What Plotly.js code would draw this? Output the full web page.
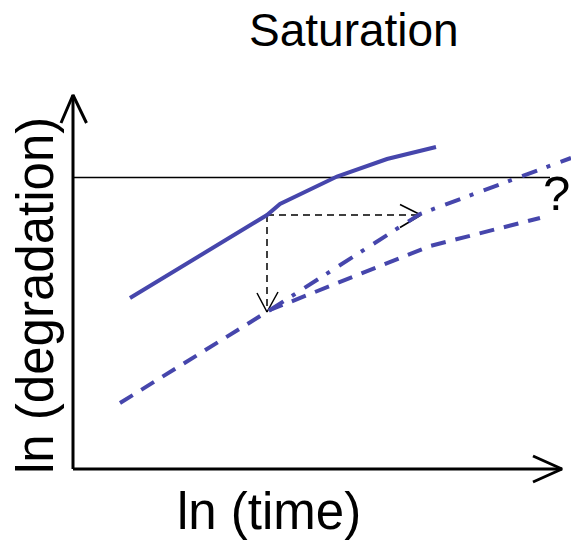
<!DOCTYPE html>
<html>
<head>
<meta charset="utf-8">
<script src="https://cdn.plot.ly/plotly-3.0.1.min.js"></script>
<style>html,body{margin:0;padding:0;background:#fff;}#chart{width:571px;height:543px;}</style>
</head>
<body>
<div id="chart"></div>
<script>
// Abstract units: ln(time) along x, ln(degradation) along y; origin at the axes corner.
const solidX = [1.14, 3.88, 4.14, 5.28, 6.28, 7.26];
const solidY = [3.42, 5.08, 5.30, 5.85, 6.20, 6.44];

const dashedX = [0.94, 3.94, 7.14, 9.34];
const dashedY = [1.32, 3.18, 4.46, 5.02];

const dashDotX = [3.94, 6.94, 9.96];
const dashDotY = [3.18, 5.10, 6.22];

const saturationLevel = 5.83;
const saturationEndX = 9.54;

// arrows: shaft + open V head
const xAxisX = [0, 9.78], xAxisY = [0, 0];
const xHeadX = [9.2, 9.78, 9.2], xHeadY = [0.26, 0, -0.26];
const yAxisX = [0, 0], yAxisY = [0, 7.48];
const yHeadX = [-0.24, 0, 0.27], yHeadY = [6.92, 7.48, 6.92];

const vArrowX = [3.88, 3.88], vArrowY = [5.08, 3.14];
const vHeadX = [3.68, 3.88, 4.10], vHeadY = [3.52, 3.14, 3.54];
const hArrowX = [3.88, 6.96], hArrowY = [5.08, 5.08];
const hHeadX = [6.54, 6.96, 6.54], hHeadY = [5.29, 5.08, 4.83];

const titleText = "Saturation";
const xLabel = "ln (time)";
const yLabel = "ln (degradation)";
const unknownMark = "?";

const blue = "#4646ac";
const FONT = "Liberation Sans, Arial, Helvetica, sans-serif";

function line(x, y, color, width, dash) {
  return {x: x, y: y, type: "scatter", mode: "lines", hoverinfo: "skip", showlegend: false,
          line: {color: color, width: width, dash: dash || "solid"}};
}

const traces = [
  line([0, saturationEndX], [saturationLevel, saturationLevel], "#000", 1.5),
  line(xAxisX, xAxisY, "#000", 3),
  line(xHeadX, xHeadY, "#000", 3),
  line(yAxisX, yAxisY, "#000", 3),
  line(yHeadX, yHeadY, "#000", 3),
  line(vArrowX, vArrowY, "#000", 1.5, "7px,5px"),
  line(vHeadX, vHeadY, "#000", 1.5),
  line(hArrowX, hArrowY, "#000", 1.5, "7px,5px"),
  line(hHeadX, hHeadY, "#000", 1.5),
  line(solidX, solidY, blue, 4),
  line(dashedX, dashedY, blue, 4, "15px,10px"),
  line(dashDotX, dashDotY, blue, 4, "16px,10px,4px,11px")
];

const layout = {
  width: 571, height: 543,
  margin: {l: 0, r: 0, t: 0, b: 0, pad: 0},
  paper_bgcolor: "#fff", plot_bgcolor: "#fff",
  xaxis: {range: [-1.46, 9.96], visible: false, fixedrange: true},
  yaxis: {range: [-1.48, 9.38], visible: false, fixedrange: true},
  showlegend: false,
  annotations: [
    {text: titleText, x: 5.62, y: 8.79, xref: "x", yref: "y", showarrow: false,
     xanchor: "center", yanchor: "middle", font: {family: FONT, size: 46, color: "#000"}},
    {text: xLabel, x: 3.91, y: -0.84, xref: "x", yref: "y", showarrow: false,
     xanchor: "center", yanchor: "middle", font: {family: FONT, size: 51, color: "#000"}},
    {text: yLabel, x: -0.76, y: 3.46, xref: "x", yref: "y", showarrow: false, textangle: -90,
     xanchor: "center", yanchor: "middle", font: {family: FONT, size: 51, color: "#000"}},
    {text: unknownMark, x: 9.66, y: 5.53, xref: "x", yref: "y", showarrow: false,
     xanchor: "center", yanchor: "middle", font: {family: FONT, size: 49, color: "#000"}}
  ]
};

Plotly.newPlot("chart", traces, layout, {displayModeBar: false, staticPlot: true});
</script>
</body>
</html>
